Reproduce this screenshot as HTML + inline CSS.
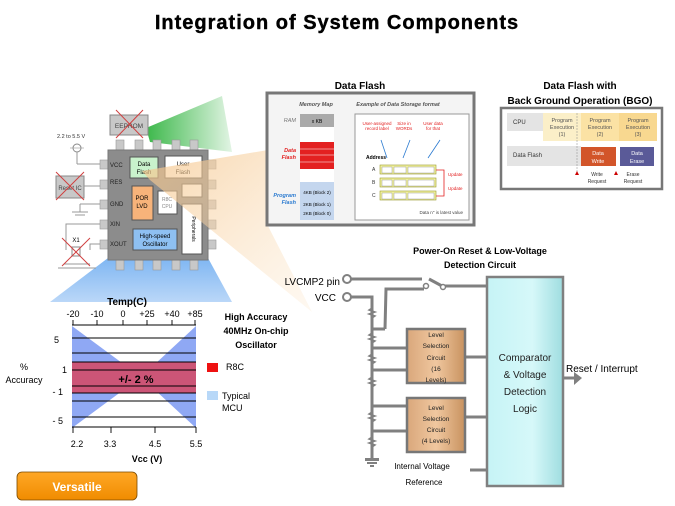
<!DOCTYPE html>
<html><head><meta charset="utf-8"><style>
html,body{margin:0;padding:0;background:#fff;}
svg{display:block;font-family:"Liberation Sans",sans-serif;}
</style></head><body>
<svg width="675" height="506" viewBox="0 0 675 506" xmlns="http://www.w3.org/2000/svg">
<defs>
<linearGradient id="gG" x1="0" y1="0" x2="1" y2="0"><stop offset="0" stop-color="#3cb84a"/><stop offset="1" stop-color="#3cb84a" stop-opacity="0.15"/></linearGradient>
<linearGradient id="gO" x1="0" y1="0" x2="1" y2="1"><stop offset="0" stop-color="#f5c58a" stop-opacity="0.9"/><stop offset="1" stop-color="#fbe3c4" stop-opacity="0.3"/></linearGradient>
<linearGradient id="gB" x1="0" y1="0" x2="0" y2="1"><stop offset="0" stop-color="#5fa4ef"/><stop offset="1" stop-color="#a9cdf6"/></linearGradient>
<linearGradient id="gC" x1="0" y1="0" x2="1" y2="0"><stop offset="0" stop-color="#c6f4f6"/><stop offset="0.6" stop-color="#d6f8f9"/><stop offset="1" stop-color="#9fdde0"/></linearGradient>
<linearGradient id="gL" x1="0" y1="0" x2="1" y2="0"><stop offset="0" stop-color="#d9a77b"/><stop offset="0.5" stop-color="#f0c79f"/><stop offset="1" stop-color="#c8925f"/></linearGradient>
<linearGradient id="gV" x1="0" y1="0" x2="0" y2="1"><stop offset="0" stop-color="#ffa726"/><stop offset="1" stop-color="#f08c00"/></linearGradient>
</defs>

<text x="337" y="29" text-anchor="middle" font-size="20" font-weight="bold" letter-spacing="1" fill="#000" stroke="#000" stroke-width="0.4">Integration of System Components</text>

<!-- beams -->
<polygon points="146,128 222,96 232,152 150,142" fill="url(#gG)"/>
<polygon points="108,258 208,258 232,302 50,302" fill="url(#gB)" opacity="0.8"/>

<!-- chip -->
<g fill="#c8c8c8" stroke="#999" stroke-width="0.6">
<rect x="116" y="140" width="8" height="10"/><rect x="135" y="140" width="8" height="10"/><rect x="153" y="140" width="8" height="10"/><rect x="172" y="140" width="8" height="10"/><rect x="190" y="140" width="8" height="10"/>
<rect x="116" y="260" width="8" height="10"/><rect x="135" y="260" width="8" height="10"/><rect x="153" y="260" width="8" height="10"/><rect x="172" y="260" width="8" height="10"/><rect x="190" y="260" width="8" height="10"/>
<rect x="100" y="160" width="8" height="9"/><rect x="100" y="180" width="8" height="9"/><rect x="100" y="200" width="8" height="9"/><rect x="100" y="220" width="8" height="9"/><rect x="100" y="240" width="8" height="9"/>
<rect x="208" y="160" width="8" height="9"/><rect x="208" y="180" width="8" height="9"/><rect x="208" y="200" width="8" height="9"/><rect x="208" y="220" width="8" height="9"/><rect x="208" y="240" width="8" height="9"/>
</g>
<rect x="108" y="150" width="100" height="110" fill="#8c8c8c" stroke="#777"/>
<rect x="130" y="157" width="28" height="21" fill="#c9f2cc" stroke="#555"/>
<text x="144" y="166" font-size="6" text-anchor="middle">Data</text><text x="144" y="174" font-size="6" text-anchor="middle">Flash</text>
<rect x="165" y="156" width="37" height="22" fill="#fff" stroke="#555"/>
<text x="183" y="166" font-size="6" text-anchor="middle">User</text><text x="183" y="174" font-size="6" text-anchor="middle">Flash</text>
<rect x="132" y="186" width="21" height="34" fill="#f7b37a" stroke="#555"/>
<text x="142" y="200" font-size="6" text-anchor="middle">POR</text><text x="142" y="208" font-size="6" text-anchor="middle">LVD</text>
<rect x="158" y="191" width="19" height="23" fill="#fff" stroke="#555"/>
<text x="167" y="201" font-size="5" text-anchor="middle" fill="#888">R8C</text><text x="167" y="208" font-size="5" text-anchor="middle" fill="#888">CPU</text>
<rect x="182" y="184" width="20" height="13" fill="#fff" stroke="#555"/>
<rect x="182" y="204" width="20" height="50" fill="#fff" stroke="#555"/>
<text x="192" y="229" font-size="5" text-anchor="middle" transform="rotate(90 192 229)">Peripherals</text>
<rect x="133" y="229" width="44" height="21" fill="#8ec0f2" stroke="#555"/>
<text x="155" y="238" font-size="6" text-anchor="middle">High-speed</text><text x="155" y="246" font-size="6" text-anchor="middle">Oscillator</text>
<g font-size="6" fill="#222">
<text x="110" y="167">VCC</text><text x="110" y="184">RES</text><text x="110" y="206">GND</text><text x="110" y="226">XIN</text><text x="110" y="246">XOUT</text>
</g>
<rect x="110" y="115" width="38" height="20" fill="#c8c8c8" stroke="#888"/>
<text x="129" y="128" font-size="6.5" text-anchor="middle" fill="#444">EEPROM</text>
<line x1="116" y1="110" x2="143" y2="138" stroke="#d04040" stroke-width="1"/><line x1="143" y1="110" x2="116" y2="138" stroke="#d04040" stroke-width="1"/>
<rect x="56" y="176" width="28" height="22" fill="#c8c8c8" stroke="#888"/>
<text x="70" y="190" font-size="6" text-anchor="middle" fill="#444">Reset IC</text>
<line x1="56" y1="172" x2="84" y2="200" stroke="#d04040"/><line x1="84" y1="172" x2="56" y2="200" stroke="#d04040"/>
<line x1="84" y1="186" x2="100" y2="186" stroke="#999"/>
<text x="57" y="138" font-size="5.5" fill="#333">2.2 to 5.5 V</text>
<circle cx="77" cy="148" r="4" fill="none" stroke="#888"/>
<line x1="77" y1="152" x2="77" y2="164" stroke="#999"/><line x1="77" y1="164" x2="100" y2="164" stroke="#999"/>
<line x1="70" y1="148" x2="84" y2="148" stroke="#999" stroke-width="0.6"/>
<line x1="80" y1="204" x2="100" y2="204" stroke="#999"/><line x1="80" y1="204" x2="80" y2="212" stroke="#999"/>
<line x1="72" y1="212" x2="88" y2="212" stroke="#999"/><line x1="75" y1="215" x2="85" y2="215" stroke="#999"/>
<polyline points="100,224 66,224 66,250" fill="none" stroke="#999"/>
<polyline points="100,244 90,244 90,250" fill="none" stroke="#999"/>
<text x="76" y="242" font-size="6" text-anchor="middle">X1</text>
<rect x="72" y="247" width="8" height="9" fill="none" stroke="#888"/>
<line x1="64" y1="264" x2="90" y2="264" stroke="#999"/><line x1="58" y1="268" x2="96" y2="268" stroke="#999"/>
<line x1="62" y1="238" x2="90" y2="266" stroke="#d04040"/><line x1="90" y1="238" x2="62" y2="266" stroke="#d04040"/>

<polygon points="142,171 268,150 268,226 312,312 150,180" fill="url(#gO)" opacity="0.8"/>

<!-- Data Flash panel -->
<text x="360" y="89" font-size="10" text-anchor="middle" font-weight="bold">Data Flash</text>
<rect x="267" y="93" width="207" height="132" fill="#f4f4f4" stroke="#777" stroke-width="3"/>
<text x="316" y="106" font-size="5.5" font-style="italic" font-weight="bold" fill="#555" text-anchor="middle">Memory Map</text>
<text x="398" y="106" font-size="5.5" font-style="italic" font-weight="bold" fill="#555" text-anchor="middle">Example of Data Storage format</text>
<text x="296" y="122" font-size="5.5" font-style="italic" fill="#777" text-anchor="end">RAM</text>
<rect x="300" y="114" width="34" height="13" fill="#aaa"/>
<text x="317" y="123" font-size="5" text-anchor="middle">x KB</text>
<rect x="300" y="127" width="34" height="15" fill="#fff"/>
<rect x="300" y="142" width="34" height="27" fill="#e32020"/>
<g stroke="#fff" stroke-width="0.6"><line x1="300" y1="149" x2="334" y2="149"/><line x1="300" y1="155" x2="334" y2="155"/><line x1="300" y1="162" x2="334" y2="162"/></g>
<text x="296" y="152" font-size="5.5" font-style="italic" font-weight="bold" fill="#e32020" text-anchor="end">Data</text>
<text x="296" y="159" font-size="5.5" font-style="italic" font-weight="bold" fill="#e32020" text-anchor="end">Flash</text>
<rect x="300" y="169" width="34" height="13" fill="#fff"/>
<rect x="300" y="182" width="34" height="38" fill="#c4d6ee"/>
<text x="296" y="197" font-size="5.5" font-style="italic" font-weight="bold" fill="#2a7ad0" text-anchor="end">Program</text>
<text x="296" y="204" font-size="5.5" font-style="italic" font-weight="bold" fill="#2a7ad0" text-anchor="end">Flash</text>
<text x="317" y="194" font-size="4.5" text-anchor="middle">4KB (Block 2)</text>
<text x="317" y="206" font-size="4.5" text-anchor="middle">2KB (Block 1)</text>
<text x="317" y="215" font-size="4.5" text-anchor="middle">2KB (Block 0)</text>
<rect x="355" y="114" width="114" height="106" fill="#fff" stroke="#999"/>
<g font-size="4.5" fill="#e32020" text-anchor="middle"><text x="377" y="125">User-assigned</text><text x="377" y="130">record label</text><text x="404" y="125">Size in</text><text x="404" y="130">WORDs</text><text x="433" y="125">User data</text><text x="433" y="130">for that</text></g>
<g stroke="#2a7ad0" stroke-width="0.8"><line x1="381" y1="140" x2="387" y2="158"/><line x1="410" y1="140" x2="403" y2="158"/><line x1="440" y1="140" x2="428" y2="158"/></g>
<text x="366" y="159" font-size="5" font-weight="bold">Address</text>
<g font-size="5" fill="#333"><text x="372" y="171">A</text><text x="372" y="184">B</text><text x="372" y="197">C</text></g>
<g fill="#f2f2a0" stroke="#9a9a30" stroke-width="0.6"><rect x="380" y="165" width="56" height="9"/><rect x="380" y="178" width="56" height="9"/><rect x="380" y="191" width="56" height="9"/></g>
<g fill="#fff" stroke="#888" stroke-width="0.4"><rect x="382" y="167" width="10" height="6"/><rect x="394" y="167" width="12" height="6"/><rect x="408" y="167" width="26" height="6"/><rect x="382" y="180" width="10" height="6"/><rect x="394" y="180" width="12" height="6"/><rect x="408" y="180" width="26" height="6"/><rect x="382" y="193" width="10" height="6"/><rect x="394" y="193" width="12" height="6"/><rect x="408" y="193" width="26" height="6"/></g>
<polyline points="436,170 444,170 444,196 436,196" fill="none" stroke="#e32020" stroke-width="0.8"/>
<g font-size="4.5" fill="#e32020"><text x="448" y="176">Update</text><text x="448" y="190">Update</text></g>
<text x="463" y="214" font-size="4.5" text-anchor="end" fill="#444">Data n'' is latest value</text>

<!-- BGO panel -->
<text x="580" y="89" font-size="10" text-anchor="middle" font-weight="bold">Data Flash with</text>
<text x="580" y="104" font-size="10" text-anchor="middle" font-weight="bold">Back Ground  Operation  (BGO)</text>
<rect x="501" y="108" width="161" height="81" fill="#fff" stroke="#777" stroke-width="2.5"/>
<rect x="507" y="113" width="36" height="18" fill="#e4e4e4"/>
<text x="513" y="124" font-size="6" fill="#333">CPU</text>
<rect x="543" y="113" width="38" height="28" fill="#fbefc8"/>
<rect x="581" y="113" width="38" height="28" fill="#fbe2a4"/>
<rect x="619" y="113" width="38" height="28" fill="#f8d890"/>
<g font-size="5.5" fill="#555" text-anchor="middle"><text x="562" y="122">Program</text><text x="562" y="129">Execution</text><text x="562" y="136">(1)</text><text x="600" y="122">Program</text><text x="600" y="129">Execution</text><text x="600" y="136">(2)</text><text x="638" y="122">Program</text><text x="638" y="129">Execution</text><text x="638" y="136">(3)</text></g>
<rect x="507" y="146" width="74" height="20" fill="#e4e4e4"/>
<text x="513" y="157" font-size="6" fill="#333">Data Flash</text>
<rect x="581" y="147" width="35" height="19" fill="#d2552a"/>
<rect x="620" y="147" width="34" height="19" fill="#5a5a98"/>
<g font-size="5.5" fill="#fff" text-anchor="middle"><text x="598" y="155">Data</text><text x="598" y="163">Write</text><text x="637" y="155">Data</text><text x="637" y="163">Erase</text></g>
<line x1="577" y1="113" x2="577" y2="175" stroke="#888" stroke-width="0.5" stroke-dasharray="2,1"/>
<polygon points="575,175 579,175 577,171" fill="#c00"/><polygon points="614,175 618,175 616,171" fill="#c00"/>
<g font-size="5" fill="#333" text-anchor="middle"><text x="597" y="176">Write</text><text x="597" y="183">Request</text><text x="633" y="176">Erase</text><text x="633" y="183">Request</text></g>

<!-- chart -->
<text x="127" y="305" font-size="10" font-weight="bold" text-anchor="middle">Temp(C)</text>
<g font-size="9" text-anchor="middle"><text x="73" y="317">-20</text><text x="97" y="317">-10</text><text x="123" y="317">0</text><text x="147" y="317">+25</text><text x="172" y="317">+40</text><text x="195" y="317">+85</text></g>
<rect x="72" y="325" width="124" height="102" fill="#fff"/>
<polygon points="72,326 141,377 72,428" fill="#8fa8f4"/>
<polygon points="196,326 141,377 196,428" fill="#8fa8f4"/>
<rect x="72" y="362" width="124" height="31" fill="#cc5577"/>
<g stroke="#000" stroke-width="0.9">
<line x1="72" y1="338" x2="196" y2="338"/><line x1="72" y1="353" x2="196" y2="353"/><line x1="72" y1="362" x2="196" y2="362"/><line x1="72" y1="370" x2="196" y2="370"/><line x1="72" y1="386" x2="196" y2="386"/><line x1="72" y1="393" x2="196" y2="393"/><line x1="72" y1="401" x2="196" y2="401"/><line x1="72" y1="417" x2="196" y2="417"/>
<line x1="72" y1="325" x2="196" y2="325"/><line x1="72" y1="427" x2="196" y2="427"/>
<line x1="73" y1="320" x2="73" y2="325"/><line x1="97" y1="320" x2="97" y2="325"/><line x1="123" y1="320" x2="123" y2="325"/><line x1="147" y1="320" x2="147" y2="325"/><line x1="172" y1="320" x2="172" y2="325"/><line x1="195" y1="320" x2="195" y2="325"/>
<line x1="73" y1="427" x2="73" y2="433"/><line x1="111" y1="427" x2="111" y2="433"/><line x1="155" y1="427" x2="155" y2="433"/><line x1="196" y1="427" x2="196" y2="433"/>
</g>
<text x="136" y="383" font-size="11" font-weight="bold" text-anchor="middle">+/- 2 %</text>
<g font-size="9"><text x="59" y="343" text-anchor="end">5</text><text x="62" y="373">1</text><text x="63" y="395" text-anchor="end">- 1</text><text x="63" y="424" text-anchor="end">- 5</text>
<text x="24" y="370" text-anchor="middle">%</text><text x="24" y="383" text-anchor="middle">Accuracy</text></g>
<g font-size="9" text-anchor="middle"><text x="77" y="447">2.2</text><text x="110" y="447">3.3</text><text x="155" y="447">4.5</text><text x="196" y="447">5.5</text></g>
<text x="147" y="462" font-size="9" font-weight="bold" text-anchor="middle">Vcc (V)</text>
<g font-size="9" font-weight="bold" text-anchor="middle"><text x="256" y="320">High Accuracy</text><text x="256" y="334">40MHz On-chip</text><text x="256" y="348">Oscillator</text></g>
<rect x="207" y="363" width="11" height="9" fill="#ee1111"/>
<text x="226" y="370" font-size="9">R8C</text>
<rect x="207" y="391" width="11" height="9" fill="#b8d8f8"/>
<text x="222" y="399" font-size="9">Typical</text><text x="222" y="411" font-size="9">MCU</text>
<rect x="17" y="472" width="120" height="28" rx="5" fill="url(#gV)" stroke="#7a4a00" stroke-width="0.8"/>
<text x="77" y="491" font-size="12" font-weight="bold" fill="#fff" text-anchor="middle">Versatile</text>

<!-- power circuit -->
<text x="480" y="254" font-size="9" font-weight="bold" text-anchor="middle">Power-On Reset &amp; Low-Voltage</text>
<text x="480" y="268" font-size="9" font-weight="bold" text-anchor="middle">Detection Circuit</text>
<text x="340" y="285" font-size="10" text-anchor="end">LVCMP2 pin</text>
<text x="336" y="301" font-size="10" text-anchor="end">VCC</text>
<g stroke="#808080" stroke-width="3" fill="none">
<line x1="351" y1="279" x2="422" y2="279"/>
<line x1="441" y1="286" x2="487" y2="286"/>
<line x1="429" y1="279" x2="442" y2="286"/>
<polyline points="385,329 386,289 424,289"/>
<polyline points="351,297 372,297 372,458"/>
<line x1="372" y1="329" x2="385" y2="329"/>
<line x1="372" y1="348" x2="406" y2="348"/>
<line x1="372" y1="370" x2="406" y2="370"/>
<line x1="372" y1="406" x2="406" y2="406"/>
<line x1="372" y1="431" x2="406" y2="431"/>
<line x1="465" y1="357" x2="487" y2="357"/>
<line x1="465" y1="417" x2="487" y2="417"/>
<line x1="470" y1="470" x2="487" y2="470"/>
<line x1="563" y1="378" x2="574" y2="378"/>
</g>
<circle cx="347" cy="279" r="4" fill="#fff" stroke="#808080" stroke-width="2"/>
<circle cx="347" cy="297" r="4" fill="#fff" stroke="#808080" stroke-width="2"/>
<circle cx="426" cy="286" r="2.5" fill="#fff" stroke="#808080" stroke-width="1.5"/>
<circle cx="443" cy="287" r="2.5" fill="#fff" stroke="#808080" stroke-width="1.5"/>
<g stroke="#808080" stroke-width="1.5" fill="none">
<polyline points="372,308 369,310 375,312 369,314 375,316 372,318"/>
<polyline points="372,333 369,335 375,337 369,339 375,341 372,343"/>
<polyline points="372,354 369,356 375,358 369,360 375,362 372,364"/>
<polyline points="372,377 369,379 375,381 369,383 375,385 372,387"/>
<polyline points="372,412 369,414 375,416 369,418 375,420 372,422"/>
<polyline points="372,437 369,439 375,441 369,443 375,445 372,447"/>
</g>
<rect x="365" y="458" width="14" height="3" fill="#808080"/><rect x="367" y="462" width="10" height="2" fill="#808080"/><rect x="370" y="465" width="4" height="2" fill="#808080"/>
<polygon points="574,372 582,378 574,385" fill="#808080"/>
<rect x="407" y="329" width="58" height="54" fill="url(#gL)" stroke="#777" stroke-width="2.5"/>
<rect x="407" y="398" width="58" height="54" fill="url(#gL)" stroke="#777" stroke-width="2.5"/>
<g font-size="6.5" text-anchor="middle" fill="#222"><text x="436" y="337">Level</text><text x="436" y="348">Selection</text><text x="436" y="360">Circuit</text><text x="436" y="371">(16</text><text x="436" y="382">Levels)</text>
<text x="436" y="410">Level</text><text x="436" y="421">Selection</text><text x="436" y="432">Circuit</text><text x="436" y="443">(4 Levels)</text></g>
<rect x="487" y="277" width="76" height="209" fill="url(#gC)" stroke="#808080" stroke-width="2.5"/>
<g font-size="10" text-anchor="middle" fill="#222"><text x="525" y="361">Comparator</text><text x="525" y="378">&amp; Voltage</text><text x="525" y="395">Detection</text><text x="525" y="412">Logic</text></g>
<text x="566" y="372" font-size="10">Reset / Interrupt</text>
<text x="422" y="469" font-size="8" text-anchor="middle">Internal Voltage</text>
<text x="424" y="485" font-size="8" text-anchor="middle">Reference</text>
</svg>
</body></html>
